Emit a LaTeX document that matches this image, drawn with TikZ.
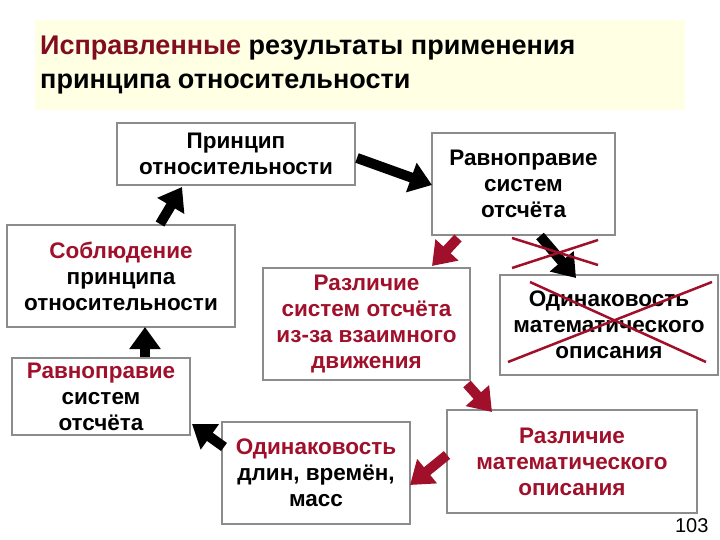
\documentclass[tikz,border=0pt]{standalone}
\usepackage{fontspec}
\setmainfont{Liberation Sans}
\usetikzlibrary{arrows.meta}
\definecolor{dred}{HTML}{A0102A}
\definecolor{ybg}{HTML}{FFFFE3}
\begin{document}
\begin{tikzpicture}[x=1pt,y=-1pt,
 box/.style={draw=gray!90,line width=2.5pt,fill=white,inner sep=0pt,align=center,font=\bfseries\fontsize{22.5}{26}\selectfont},
 barr/.style={line width=10pt,-{Triangle[length=22pt,width=30pt]}},
 rarr/.style={barr,dred}]
\useasboundingbox (0,0) rectangle (720,540);
\node[fill=ybg,minimum width=650,minimum height=90,anchor=north west,inner sep=0] (tb) at (35,20) {};
\node[anchor=north west,align=left,inner sep=0,font=\bfseries\fontsize{27}{34}\selectfont] (title) at (40,36) {\textcolor{dred!80!black}{Исправленные} результаты применения\\принципа относительности};
\node[box,minimum width=238,minimum height=62] (p) at (236,154) {Принцип\\относительности};
\node[box,minimum width=183,minimum height=102] (rr) at (523.5,184) {Равноправие\\систем\\отсчёта};
\node[box,minimum width=228,minimum height=102] (s) at (121,276) {\textcolor{dred}{Соблюдение}\\принципа\\относительности};
\node[box,minimum width=178,minimum height=77] (rl) at (101,396.5) {\textcolor{dred}{Равноправие}\\систем\\отсчёта};
\node[box,minimum width=207,minimum height=112,text=dred] (rs) at (366.5,324) {Различие\\систем отсчёта\\из-за  взаимного\\движения};
\node[box,minimum width=218,minimum height=100] (om) at (609,325) {Одинаковость\\математического\\описания};
\node[box,minimum width=188,minimum height=102] (od) at (316,473) {\textcolor{dred}{Одинаковость}\\длин, времён,\\масс};
\node[box,minimum width=250,minimum height=103,text=dred] (rm) at (572,461.5) {Различие\\математического\\описания};
\node[anchor=south east,font=\fontsize{20}{22}\selectfont] (num) at (712,536) {103};
% arrows
\draw[barr] (145,357) coordinate (a1) -- (145,327) coordinate (a1e);
\draw[barr] (160,224) coordinate (a2s) -- (182,187) coordinate (a2e);
\draw[barr] (357,158) coordinate (a3s) -- (432,185) coordinate (a3e);
\draw[barr] (540,236) coordinate (a4s) -- (576,278) coordinate (a4e);
\draw[rarr] (458,238) coordinate (a5s) -- (432,266) coordinate (a5e);
\draw[rarr] (467,384) coordinate (a6s) -- (492,412) coordinate (a6e);
\draw[rarr] (447,455) coordinate (a7s) -- (410,485) coordinate (a7e);
\draw[barr] (224,447) coordinate (a8s) -- (192,424) coordinate (a8e);
% crosses
\draw[dred,line width=2.5pt] (512,238) coordinate (c1) -- (598,265) coordinate (c2);
\draw[dred,line width=2.5pt] (512,268) coordinate (c3) -- (598,240) coordinate (c4);
\draw[dred,line width=2.5pt] (508,362) coordinate (c5) -- (712,282) coordinate (c6);
\draw[dred,line width=2.5pt] (530,282) coordinate (c7) -- (706,362) coordinate (c8);
\end{tikzpicture}
\end{document}
